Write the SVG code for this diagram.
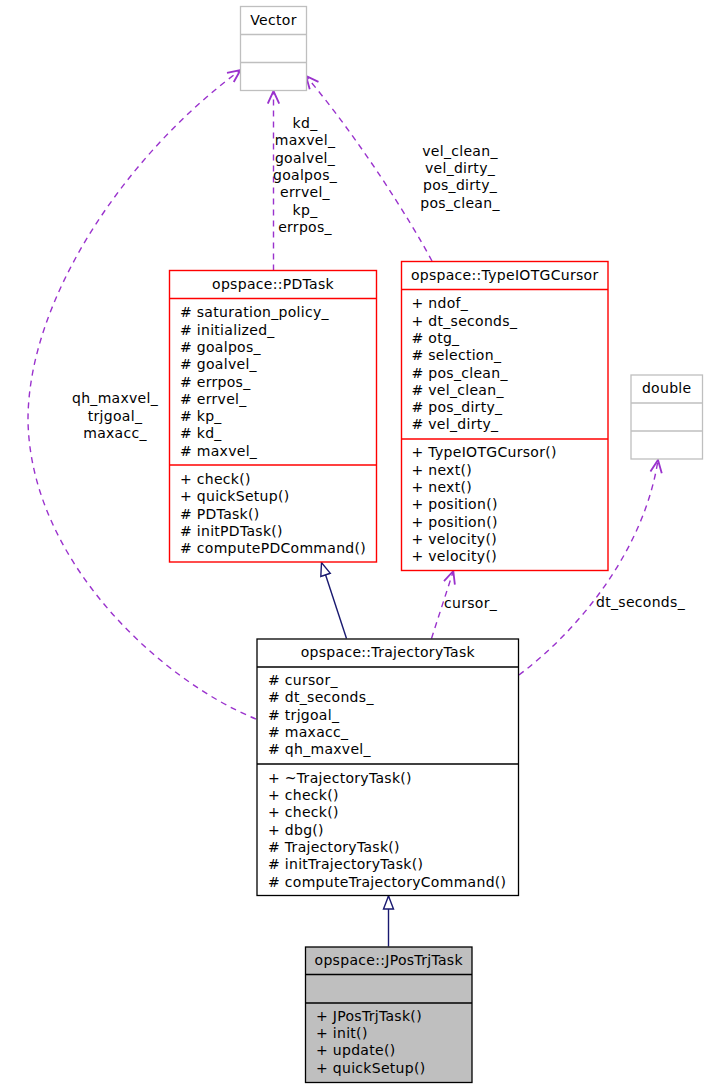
<svg xmlns="http://www.w3.org/2000/svg" width="707" height="1087" viewBox="0 0 707 1087">
<style>
text{font-family:"DejaVu Sans","Liberation Sans",sans-serif;font-size:14px;fill:#000;letter-spacing:0.3px}
.c{text-anchor:middle}
.grey{fill:#fff;stroke:#bfbfbf;stroke-width:1.3}
.red{fill:#fff;stroke:#ff0000;stroke-width:1.4}
.blk{fill:#fff;stroke:#000;stroke-width:1.3}
.gfill{fill:#bfbfbf;stroke:#000;stroke-width:1.3}
.dg{stroke:#bfbfbf;stroke-width:1.3}
.dr{stroke:#ff0000;stroke-width:1.4}
.db{stroke:#000;stroke-width:1.3}
.use{fill:none;stroke:#9a32cd;stroke-width:1.4;stroke-dasharray:6,5;marker-end:url(#va)}
.inh{fill:none;stroke:#191970;stroke-width:1.4;marker-end:url(#tri)}
</style>
<defs>
<marker id="va" markerUnits="userSpaceOnUse" markerWidth="16" markerHeight="14" refX="12" refY="6" orient="auto" viewBox="0 0 14 12"><path d="M1,1 L12,6 L1,11" fill="none" stroke="#9a32cd" stroke-width="1.6"/></marker>
<marker id="tri" markerUnits="userSpaceOnUse" markerWidth="16" markerHeight="14" refX="14" refY="6" orient="auto" viewBox="0 0 16 12"><path d="M1,1 L14,6 L1,11 Z" fill="#fff" stroke="#191970" stroke-width="1.4"/></marker>
</defs>

<g id="connectors">
<path class="use" d="M273.5,270.5 L273.5,91"/>
<path class="use" d="M432,261 C410,220 360,140 306,76"/>
<path class="use" d="M256,719 C160,680 30,560 28,420 C28,300 125,155 240.5,70"/>
<path class="use" d="M431.5,638.5 L453.3,571"/>
<path class="use" d="M519,675 C585,625 645,545 658,460"/>
<path class="inh" d="M346.5,638.5 L321.5,562.5"/>
<path class="inh" d="M388.5,946.5 L388.5,896"/>
<g id="edge-labels">
<text class="c" x="305" y="128">kd_</text>
<text class="c" x="305" y="145.3">maxvel_</text>
<text class="c" x="305" y="162.6">goalvel_</text>
<text class="c" x="305" y="179.9">goalpos_</text>
<text class="c" x="305" y="197.2">errvel_</text>
<text class="c" x="305" y="214.5">kp_</text>
<text class="c" x="305" y="231.8">errpos_</text>
<text class="c" x="460" y="155.7">vel_clean_</text>
<text class="c" x="460" y="173">vel_dirty_</text>
<text class="c" x="460" y="190.3">pos_dirty_</text>
<text class="c" x="460" y="207.6">pos_clean_</text>
<text class="c" x="115" y="403.3">qh_maxvel_</text>
<text class="c" x="115" y="420.6">trjgoal_</text>
<text class="c" x="115" y="437.9">maxacc_</text>
<text x="444" y="608.3">cursor_</text>
<text class="c" x="640.5" y="607.3">dt_seconds_</text>
</g>
</g>

<g id="Vector">
<rect class="grey" x="240.5" y="6.5" width="66" height="84"/>
<line class="dg" x1="240.5" y1="34.5" x2="306.5" y2="34.5"/>
<line class="dg" x1="240.5" y1="62.5" x2="306.5" y2="62.5"/>
<text class="c" x="273.5" y="25">Vector</text>
</g>

<g id="PDTask">
<rect class="red" x="169.5" y="270.5" width="207" height="291.5"/>
<line class="dr" x1="169.5" y1="298.5" x2="376.5" y2="298.5"/>
<line class="dr" x1="169.5" y1="465" x2="376.5" y2="465"/>
<text class="c" x="273" y="289.3">opspace::PDTask</text>
<text x="180" y="317.3"># saturation_policy_</text>
<text x="180" y="334.6"># initialized_</text>
<text x="180" y="351.9"># goalpos_</text>
<text x="180" y="369.2"># goalvel_</text>
<text x="180" y="386.5"># errpos_</text>
<text x="180" y="403.8"># errvel_</text>
<text x="180" y="421.1"># kp_</text>
<text x="180" y="438.4"># kd_</text>
<text x="180" y="455.7"># maxvel_</text>
<text x="180" y="484">+ check()</text>
<text x="180" y="501.3">+ quickSetup()</text>
<text x="180" y="518.6"># PDTask()</text>
<text x="180" y="535.9"># initPDTask()</text>
<text x="180" y="553.2"># computePDCommand()</text>
</g>

<g id="TypeIOTGCursor">
<rect class="red" x="401.5" y="261.5" width="206.5" height="309"/>
<line class="dr" x1="401.5" y1="289.5" x2="608" y2="289.5"/>
<line class="dr" x1="401.5" y1="439" x2="608" y2="439"/>
<text class="c" x="504.7" y="279.5">opspace::TypeIOTGCursor</text>
<text x="411.5" y="308.3">+ ndof_</text>
<text x="411.5" y="325.6">+ dt_seconds_</text>
<text x="411.5" y="342.9"># otg_</text>
<text x="411.5" y="360.2"># selection_</text>
<text x="411.5" y="377.5"># pos_clean_</text>
<text x="411.5" y="394.8"># vel_clean_</text>
<text x="411.5" y="412.1"># pos_dirty_</text>
<text x="411.5" y="429.4"># vel_dirty_</text>
<text x="411.5" y="457.3">+ TypeIOTGCursor()</text>
<text x="411.5" y="474.6">+ next()</text>
<text x="411.5" y="491.9">+ next()</text>
<text x="411.5" y="509.2">+ position()</text>
<text x="411.5" y="526.5">+ position()</text>
<text x="411.5" y="543.8">+ velocity()</text>
<text x="411.5" y="561.1">+ velocity()</text>
</g>

<g id="double">
<rect class="grey" x="631" y="375" width="71.5" height="84"/>
<line class="dg" x1="631" y1="403" x2="702.5" y2="403"/>
<line class="dg" x1="631" y1="431" x2="702.5" y2="431"/>
<text class="c" x="666.7" y="392.7">double</text>
</g>

<g id="TrajectoryTask">
<rect class="blk" x="257" y="639" width="261.5" height="256.5"/>
<line class="db" x1="257" y1="667" x2="518.5" y2="667"/>
<line class="db" x1="257" y1="764" x2="518.5" y2="764"/>
<text class="c" x="387.8" y="656.7">opspace::TrajectoryTask</text>
<text x="268" y="685"># cursor_</text>
<text x="268" y="702.3"># dt_seconds_</text>
<text x="268" y="719.6"># trjgoal_</text>
<text x="268" y="736.9"># maxacc_</text>
<text x="268" y="754.2"># qh_maxvel_</text>
<text x="268" y="782.7">+ ~TrajectoryTask()</text>
<text x="268" y="800">+ check()</text>
<text x="268" y="817.3">+ check()</text>
<text x="268" y="834.6">+ dbg()</text>
<text x="268" y="851.9"># TrajectoryTask()</text>
<text x="268" y="869.2"># initTrajectoryTask()</text>
<text x="268" y="886.5"># computeTrajectoryCommand()</text>
</g>

<g id="JPosTrjTask">
<rect class="gfill" x="305.5" y="947" width="166.5" height="135.5"/>
<line class="db" x1="305.5" y1="974.5" x2="472" y2="974.5"/>
<line class="db" x1="305.5" y1="1003" x2="472" y2="1003"/>
<text class="c" x="388.7" y="965">opspace::JPosTrjTask</text>
<text x="316" y="1020.7">+ JPosTrjTask()</text>
<text x="316" y="1038">+ init()</text>
<text x="316" y="1055.3">+ update()</text>
<text x="316" y="1072.6">+ quickSetup()</text>
</g>
</svg>
